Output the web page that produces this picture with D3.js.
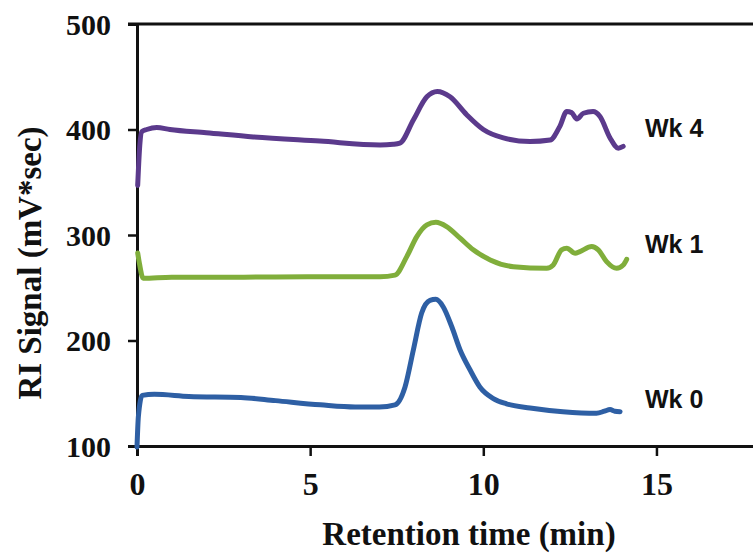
<!DOCTYPE html>
<html lang="en">
<head>
<meta charset="UTF-8">
<title>RI Signal chromatograms</title>
<script src="https://cdnjs.cloudflare.com/ajax/libs/d3/7.8.5/d3.min.js"></script>
<style>
  html, body { margin: 0; padding: 0; background: #fff; overflow: hidden; }
  .tick-label { font-family: "Liberation Serif", "Times New Roman", serif; font-weight: bold; fill: #111; }
  .axis-title { font-family: "Liberation Serif", "Times New Roman", serif; font-weight: bold; fill: #111; }
  .series-label { font-family: "Liberation Sans", Arial, sans-serif; font-weight: bold; fill: #111; }
</style>
</head>
<body>
<div id="chart"></div>
<script>
// retention time (min) / RI signal (mV*sec)
const wk0Time = [0, 0.04, 0.15, 0.5, 1.5, 3, 4, 5.3, 6.3, 7.0, 7.45, 7.74, 7.98, 8.22, 8.46, 8.63, 8.84, 9.09, 9.33, 9.62, 9.9, 10.29, 10.67, 11.35, 12.3, 13.27, 13.5, 13.66, 13.8, 13.95];
const wk0Vals = [99, 128, 148, 149, 147, 146, 143, 139, 137, 137, 139, 156, 191, 226, 238, 239, 232, 213, 191, 172, 156, 145, 140, 136, 132.5, 131, 133, 134.5, 133, 132.5];

const wk1Time = [0.02, 0.06, 0.18, 1, 3, 5, 7.02, 7.45, 7.79, 8.08, 8.37, 8.63, 8.94, 9.33, 9.71, 10.2, 10.87, 11.83, 12.02, 12.26, 12.41, 12.65, 12.79, 13.13, 13.32, 13.56, 13.85, 14.04, 14.14];
const wk1Vals = [283, 275, 259, 260, 260, 260.5, 260.5, 262, 279.5, 298.5, 309.6, 312, 308, 297, 286, 276.4, 270, 268.5, 271.6, 286, 287.5, 282.7, 284.3, 289, 286, 274.8, 268.5, 271.6, 277];

const wk4Time = [0.02, 0.08, 0.14, 0.28, 0.57, 0.95, 2, 3.36, 5.28, 7.02, 7.4, 7.59, 7.98, 8.37, 8.67, 9.04, 9.52, 10, 10.58, 11.35, 11.93, 12.21, 12.41, 12.55, 12.7, 12.89, 13.17, 13.37, 13.66, 13.9, 14.04];
const wk4Vals = [347, 385, 398, 400, 402, 400, 397, 393, 389, 385.4, 386, 387, 409, 431, 436, 431, 414, 400, 392, 388.6, 390, 403, 417, 416, 410, 415.4, 417, 412.3, 392, 382.3, 384];

const seriesNames = ["Wk 0", "Wk 1", "Wk 4"];
const seriesColors = ["#2e5fa4", "#80ae3b", "#5b3a8c"];
const labelValues = [144, 291, 401];   // where each label sits, in y units

const xTicks = [0, 5, 10, 15];
const yTicks = [100, 200, 300, 400, 500];

const width = 753, height = 558;

const x = d3.scaleLinear().domain([0, 20]).range([137, 137 + 20 * 34.63]);
const y = d3.scaleLinear().domain([100, 500]).range([446, 24]);

const svg = d3.select("#chart").append("svg")
  .attr("width", width)
  .attr("height", height);

// top frame line (the right edge of the plot falls outside the picture)
svg.append("line")
  .attr("x1", 128).attr("x2", width)
  .attr("y1", y(500)).attr("y2", y(500))
  .attr("stroke", "#111").attr("stroke-width", 3);

// y axis
const yAxis = svg.append("g")
  .attr("transform", `translate(${x(0)},0)`)
  .call(d3.axisLeft(y).tickValues(yTicks).tickSize(9).tickPadding(17));
yAxis.select(".domain").attr("stroke", "#111").attr("stroke-width", 3);
yAxis.selectAll(".tick line").attr("stroke", "#111").attr("stroke-width", 2.5);
yAxis.selectAll(".tick text")
  .attr("class", "tick-label")
  .attr("font-size", 30)
  .attr("dy", "0.34em");

// x axis
const xAxis = svg.append("g")
  .attr("transform", `translate(0,${y(100)})`)
  .call(d3.axisBottom(x).tickValues(xTicks).tickSize(10).tickPadding(12));
xAxis.select(".domain").attr("stroke", "#111").attr("stroke-width", 3);
xAxis.selectAll(".tick line").attr("stroke", "#111").attr("stroke-width", 2.5);
xAxis.selectAll(".tick text")
  .attr("class", "tick-label")
  .attr("font-size", 32)
  .attr("dy", "0.85em");

// series lines
const line = d3.line()
  .x(d => x(d[0]))
  .y(d => y(d[1]))
  .curve(d3.curveMonotoneX);

const allSeries = [
  d3.zip(wk0Time, wk0Vals),
  d3.zip(wk1Time, wk1Vals),
  d3.zip(wk4Time, wk4Vals)
];

svg.selectAll(".series")
  .data(allSeries)
  .join("path")
  .attr("class", "series")
  .attr("d", line)
  .attr("fill", "none")
  .attr("stroke", (d, i) => seriesColors[i])
  .attr("stroke-width", 5)
  .attr("stroke-linejoin", "round")
  .attr("stroke-linecap", "round");

// series labels
svg.selectAll(".series-label")
  .data(seriesNames)
  .join("text")
  .attr("class", "series-label")
  .attr("x", 645)
  .attr("y", (d, i) => y(labelValues[i]))
  .attr("dy", "0.35em")
  .attr("font-size", 25)
  .text(d => d);

// axis titles
svg.append("text")
  .attr("class", "axis-title")
  .attr("x", 469)
  .attr("y", 545)
  .attr("text-anchor", "middle")
  .attr("font-size", 33)
  .text("Retention time (min)");

svg.append("text")
  .attr("class", "axis-title")
  .attr("transform", "translate(41,263) rotate(-90)")
  .attr("text-anchor", "middle")
  .attr("font-size", 33)
  .text("RI Signal (mV*sec)");
</script>
</body>
</html>
